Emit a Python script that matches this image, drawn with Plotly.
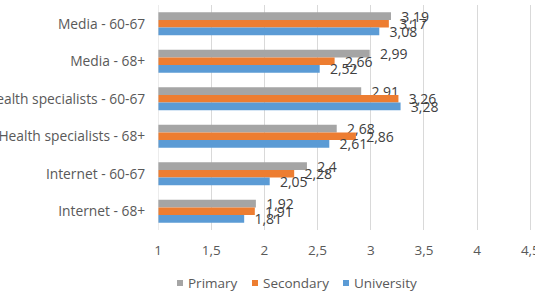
import plotly.graph_objects as go

categories = ["Media - 60-67", "Media - 68+", "Health specialists - 60-67",
              "Health specialists - 68+", "Internet - 60-67", "Internet - 68+"]
primary = [3.19, 2.99, 2.91, 2.68, 2.4, 1.92]
secondary = [3.17, 2.66, 3.26, 2.86, 2.28, 1.91]
university = [3.08, 2.52, 3.28, 2.61, 2.05, 1.81]
series_names = ["Primary", "Secondary", "University"]
colors = ["#A5A5A5", "#ED7D31", "#5B9BD5"]

W, H = 541, 293
ML, MR, MT, MB = 158, 0, 5, 63

fig = go.Figure()
for name, vals, col in zip(series_names, [primary, secondary, university], colors):
    fig.add_trace(go.Bar(
        y=categories, x=vals, name=name, orientation="h",
        marker=dict(color=col, line=dict(width=0)),
        text=[("%g" % v).replace(".", ",") for v in vals],
        texttemplate="  %{text}",
        textposition="outside", constraintext="none", cliponaxis=False,
        textfont=dict(size=14, color="#404040", family="Open Sans"),
        showlegend=False,
    ))

# manual legend (compact, Excel-like)
leg_x = [177, 252, 343]
leg_yc = 283
ph = H - MT - MB
pw = W - ML - MR
for name, col, lx in zip(series_names, colors, leg_x):
    fx = (lx - ML) / pw
    fx2 = (lx + 6 - ML) / pw
    fy0 = (H - MB - (leg_yc + 3)) / ph
    fy1 = (H - MB - (leg_yc - 3)) / ph
    fig.add_shape(type="rect", xref="paper", yref="paper", x0=fx, x1=fx2, y0=fy0, y1=fy1,
                  fillcolor=col, line=dict(width=0))
    fig.add_annotation(xref="paper", yref="paper", x=(lx + 9 - ML) / pw,
                       y=(H - MB - leg_yc) / ph, text=name, showarrow=False,
                       xanchor="left", yanchor="middle",
                       font=dict(size=13.5, color="#595959", family="Open Sans"))

fig.update_layout(
    width=W, height=H,
    margin=dict(l=ML, r=MR, t=MT, b=MB),
    barmode="group", bargap=0.39, bargroupgap=0,
    separators=", ",
    plot_bgcolor="white", paper_bgcolor="white",
    font=dict(family="Open Sans", size=13.5, color="#595959"),
    showlegend=False,
)
fig.update_xaxes(range=[1, 4.6], dtick=0.5, tick0=1, showgrid=True, gridcolor="#D9D9D9",
                 gridwidth=1, zeroline=False, showline=False, ticks="outside", ticklen=8,
                 tickcolor="rgba(0,0,0,0)", tickformat=",.1~f", automargin=False,
                 tickfont=dict(size=13.5))
fig.update_yaxes(autorange="reversed", showgrid=False, showline=False, ticks="outside",
                 ticklen=9, tickcolor="rgba(0,0,0,0)", automargin=False,
                 tickfont=dict(size=13.8))
fig.add_shape(type="line", xref="x", yref="paper", x0=1, x1=1, y0=0, y1=1,
              line=dict(color="#D9D9D9", width=1))

fig.write_html("out.html", config={"displayModeBar": False},
               post_script="document.body.style.margin='0px';document.body.style.overflow='hidden';")
